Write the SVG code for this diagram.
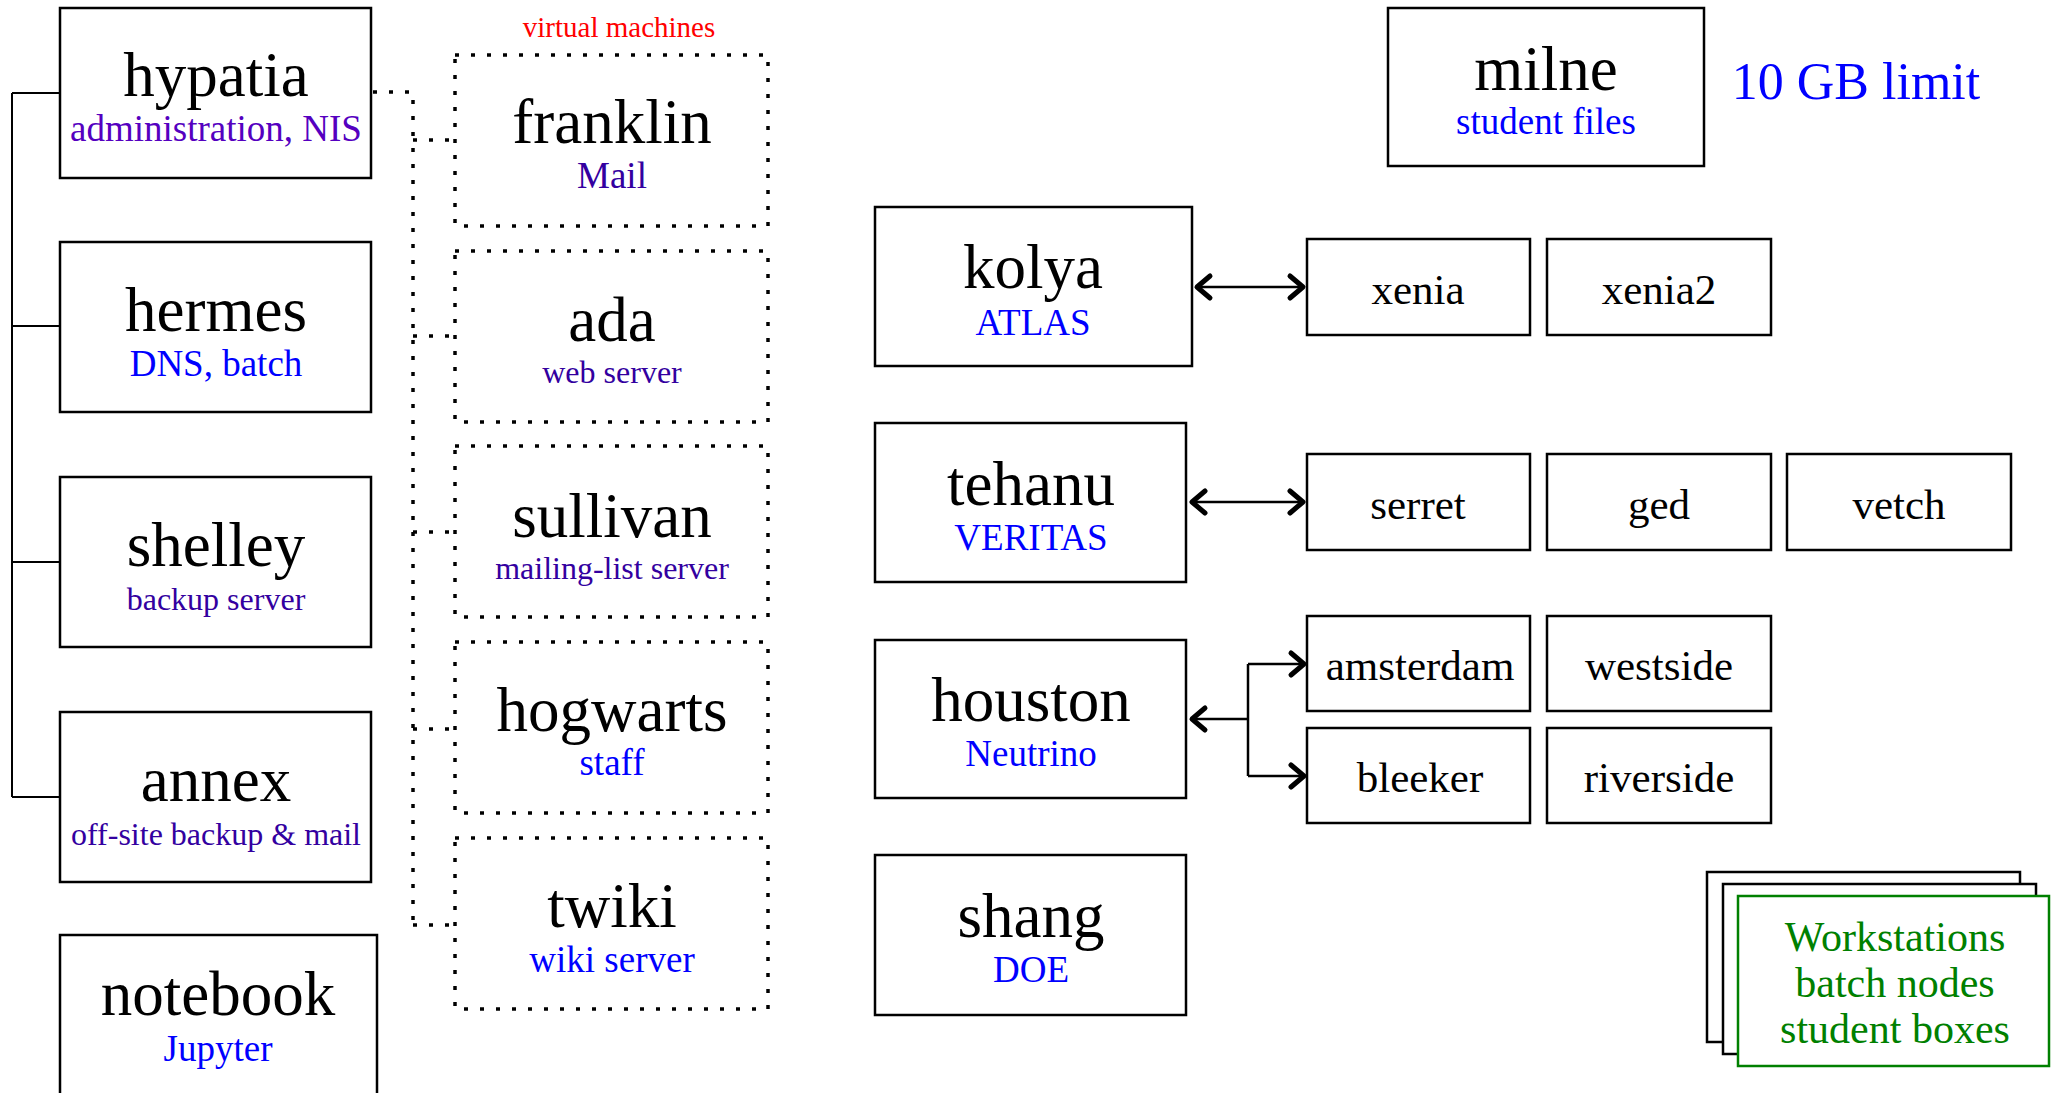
<svg xmlns="http://www.w3.org/2000/svg" width="2051" height="1093" viewBox="0 0 2051 1093">
<defs>
<style>
text{font-family:"Liberation Serif","Times New Roman",serif;text-anchor:middle}
.box{fill:#fff;stroke:#000;stroke-width:2.5}
.vm{fill:none;stroke:#000;stroke-width:3.5;stroke-dasharray:4 12}
.nm{font-size:63px;fill:#000}
.sm{font-size:43px;fill:#000}
.sb{font-size:37px;fill:#0000ff}
.sv{font-size:37px;fill:#5500c0}
.si{font-size:32px;fill:#3300a0}
.sj{font-size:37px;fill:#3300a0}
.ln{fill:none;stroke:#000;stroke-width:2}
.dt{fill:none;stroke:#000;stroke-width:3.5;stroke-dasharray:4 12}
.ar{fill:none;stroke:#000;stroke-width:2.5}
.gr{font-family:"Liberation Serif","Times New Roman",serif;font-size:42px;fill:#008000}
</style>
<marker id="ah" markerUnits="userSpaceOnUse" markerWidth="30" markerHeight="30" viewBox="-20 -15 30 30" refX="0" refY="0" orient="auto-start-reverse">
<path d="M-13,-11 L0,0 L-13,11" fill="none" stroke="#000" stroke-width="5" stroke-linecap="round" stroke-linejoin="round"/>
</marker>
</defs>

<g id="connectors">
<path class="ln" d="M12,93 V797 M12,93 H60 M12,326 H60 M12,562 H60 M12,797 H60"/>
<path class="dt" d="M373,92 H413 V925 M413,140 H455 M413,336 H455 M413,532 H455 M413,729 H455 M413,925 H455"/>
<line class="ar" x1="1197" y1="287" x2="1303" y2="287" marker-start="url(#ah)" marker-end="url(#ah)"/>
<line class="ar" x1="1192" y1="502" x2="1303" y2="502" marker-start="url(#ah)" marker-end="url(#ah)"/>
<path class="ar" d="M1248,719 H1192" marker-end="url(#ah)"/>
<path class="ar" d="M1248,664 V776"/>
<path class="ar" d="M1248,664 H1304" marker-end="url(#ah)"/>
<path class="ar" d="M1248,776 H1304" marker-end="url(#ah)"/>
</g>

<g id="hypatia"><rect class="box" x="60" y="8" width="311" height="170"/><text class="nm" x="216" y="96">hypatia</text><text class="sv" x="216" y="141">administration, NIS</text></g>
<g id="hermes"><rect class="box" x="60" y="242" width="311" height="170"/><text class="nm" x="216" y="331">hermes</text><text class="sb" x="216" y="376">DNS, batch</text></g>
<g id="shelley"><rect class="box" x="60" y="477" width="311" height="170"/><text class="nm" x="216" y="566">shelley</text><text class="si" x="216" y="610">backup server</text></g>
<g id="annex"><rect class="box" x="60" y="712" width="311" height="170"/><text class="nm" x="216" y="801">annex</text><text class="si" x="216" y="845">off-site backup &amp; mail</text></g>
<g id="notebook"><rect class="box" x="60" y="935" width="317" height="170"/><text class="nm" x="218" y="1015">notebook</text><text class="sb" x="218" y="1061">Jupyter</text></g>

<text x="619" y="37" style="font-size:29px;fill:#ff0000">virtual machines</text>
<g id="franklin"><rect class="vm" x="455" y="55" width="313" height="171"/><text class="nm" x="612" y="143">franklin</text><text class="sj" x="612" y="188">Mail</text></g>
<g id="ada"><rect class="vm" x="455" y="251" width="313" height="171"/><text class="nm" x="612" y="341">ada</text><text class="si" x="612" y="383">web server</text></g>
<g id="sullivan"><rect class="vm" x="455" y="446" width="313" height="171"/><text class="nm" x="612" y="537">sullivan</text><text class="si" x="612" y="579">mailing-list server</text></g>
<g id="hogwarts"><rect class="vm" x="455" y="642" width="313" height="171"/><text class="nm" x="612" y="731">hogwarts</text><text class="sb" x="612" y="775">staff</text></g>
<g id="twiki"><rect class="vm" x="455" y="838" width="313" height="171"/><text class="nm" x="612" y="927">twiki</text><text class="sb" x="612" y="972">wiki server</text></g>

<g id="milne"><rect class="box" x="1388" y="8" width="316" height="158"/><text class="nm" x="1546" y="90">milne</text><text class="sb" x="1546" y="134">student files</text></g>
<text x="1856" y="99" style="font-size:52px;fill:#0000ff">10 GB limit</text>

<g id="kolya"><rect class="box" x="875" y="207" width="317" height="159"/><text class="nm" x="1033" y="288">kolya</text><text class="sb" x="1033" y="335">ATLAS</text></g>
<g id="xenia"><rect class="box" x="1307" y="239" width="223" height="96"/><text class="sm" x="1418" y="304">xenia</text></g>
<g id="xenia2"><rect class="box" x="1547" y="239" width="224" height="96"/><text class="sm" x="1659" y="304">xenia2</text></g>

<g id="tehanu"><rect class="box" x="875" y="423" width="311" height="159"/><text class="nm" x="1031" y="505">tehanu</text><text class="sb" x="1031" y="550">VERITAS</text></g>
<g id="serret"><rect class="box" x="1307" y="454" width="223" height="96"/><text class="sm" x="1418" y="519">serret</text></g>
<g id="ged"><rect class="box" x="1547" y="454" width="224" height="96"/><text class="sm" x="1659" y="519">ged</text></g>
<g id="vetch"><rect class="box" x="1787" y="454" width="224" height="96"/><text class="sm" x="1899" y="519">vetch</text></g>

<g id="houston"><rect class="box" x="875" y="640" width="311" height="158"/><text class="nm" x="1031" y="721">houston</text><text class="sb" x="1031" y="766">Neutrino</text></g>
<g id="amsterdam"><rect class="box" x="1307" y="616" width="223" height="95"/><text class="sm" x="1420" y="680">amsterdam</text></g>
<g id="westside"><rect class="box" x="1547" y="616" width="224" height="95"/><text class="sm" x="1659" y="680">westside</text></g>
<g id="bleeker"><rect class="box" x="1307" y="728" width="223" height="95"/><text class="sm" x="1420" y="792">bleeker</text></g>
<g id="riverside"><rect class="box" x="1547" y="728" width="224" height="95"/><text class="sm" x="1659" y="792">riverside</text></g>

<g id="shang"><rect class="box" x="875" y="855" width="311" height="160"/><text class="nm" x="1031" y="937">shang</text><text class="sb" x="1031" y="982">DOE</text></g>

<g id="workstations">
<rect class="box" x="1707" y="872" width="313" height="170"/>
<rect class="box" x="1723" y="884" width="313" height="170"/>
<rect x="1738" y="896" width="311" height="170" fill="#fff" stroke="#008000" stroke-width="2.5"/>
<text class="gr" x="1895" y="951">Workstations</text>
<text class="gr" x="1895" y="997">batch nodes</text>
<text class="gr" x="1895" y="1043">student boxes</text>
</g>
</svg>
